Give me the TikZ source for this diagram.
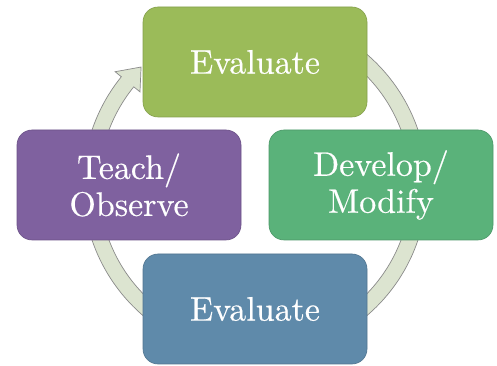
\documentclass[tikz,border=0pt]{standalone}
\usepackage{fontspec}
\newfontfamily\boxfont{lmroman10-regular}[Extension=.otf, FakeBold=0.4]
\begin{document}
\begin{tikzpicture}[x=1pt,y=1pt,
  box/.style={rounded corners=15pt, minimum width=224pt, minimum height=110pt, inner sep=0pt,
    text=white, align=center, font=\boxfont\fontsize{34}{37}\selectfont, line width=0.6pt},
  ring/.style={fill=ringfill, draw=ringline, line width=0.7pt, line join=miter}]
\definecolor{ctop}{HTML}{9BBB59}
\definecolor{cright}{HTML}{5AB27A}
\definecolor{cbottom}{HTML}{5F8AAA}
\definecolor{cleft}{HTML}{7F619F}
\definecolor{ringfill}{HTML}{DCE4D0}
\definecolor{ringline}{HTML}{8A8A8A}
\useasboundingbox (0,0) rectangle (497,366);
\begin{scope}[shift={(255,181)}]
\path[ring] (80:172pt) arc[start angle=80, end angle=-219, radius=172pt]
  -- (-219:180pt) -- (-226:164pt) -- (-219:148pt) -- (-219:156pt)
  arc[start angle=-219, end angle=80, radius=156pt] -- cycle;
\end{scope}
\node[box, fill=ctop, draw=ctop!85!black] (top) at (255,304) {Evaluate};
\node[box, fill=cright, draw=cright!85!black] (right) at (381,181) {Develop/\\Modify};
\node[box, fill=cbottom, draw=cbottom!85!black] (bottom) at (255,57) {Evaluate};
\node[box, fill=cleft, draw=cleft!85!black] (left) at (129,181) {Teach/\\Observe};
\end{tikzpicture}
\end{document}
